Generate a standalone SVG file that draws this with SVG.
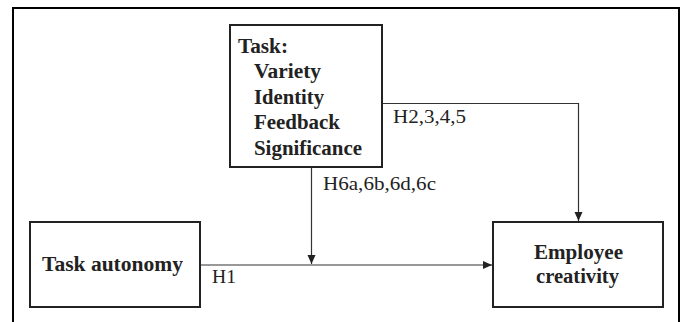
<svg xmlns="http://www.w3.org/2000/svg" width="682" height="322" viewBox="0 0 682 322">
<style>
.frame{fill:none;stroke:#000;stroke-width:2}
.box{fill:#fff;stroke:#222;stroke-width:2}
.conn{fill:none;stroke:#333;stroke-width:1.2}
.b{font-family:"Liberation Serif","Times New Roman",serif;font-weight:bold;font-size:20px;fill:#222}
.r{font-family:"Liberation Serif","Times New Roman",serif;font-size:18px;fill:#222}
</style>
<defs>
<marker id="arr" markerWidth="10" markerHeight="10" refX="9" refY="5" orient="auto" markerUnits="userSpaceOnUse">
<path d="M0,1 L9,5 L0,9 Z" fill="#222"/>
</marker>
</defs>
<path class="frame" d="M13,322 V8 H679 V322"/>
<g id="connectors">
<path class="conn" d="M382,103.5 H578.5 V221" marker-end="url(#arr)"/>
<path class="conn" d="M311.5,167 V264" marker-end="url(#arr)"/>
<path class="conn" d="M200,265 H492" marker-end="url(#arr)"/>
<text class="r" x="393" y="123" textLength="73" lengthAdjust="spacingAndGlyphs">H2,3,4,5</text>
<text class="r" x="323" y="190" textLength="113" lengthAdjust="spacingAndGlyphs">H6a,6b,6d,6c</text>
<text class="r" x="212" y="283" textLength="24" lengthAdjust="spacingAndGlyphs">H1</text>
</g>
<g id="task">
<rect class="box" x="230" y="25" width="152" height="142"/>
<text class="b" x="238" y="53" textLength="50" lengthAdjust="spacingAndGlyphs">Task:</text>
<text class="b" x="254" y="78" textLength="67" lengthAdjust="spacingAndGlyphs">Variety</text>
<text class="b" x="254" y="104" textLength="70" lengthAdjust="spacingAndGlyphs">Identity</text>
<text class="b" x="254" y="129" textLength="86" lengthAdjust="spacingAndGlyphs">Feedback</text>
<text class="b" x="254" y="155" textLength="108" lengthAdjust="spacingAndGlyphs">Significance</text>
</g>
<g id="autonomy">
<rect class="box" x="30" y="222" width="170" height="85"/>
<text class="b" x="42" y="271" textLength="141" lengthAdjust="spacingAndGlyphs">Task autonomy</text>
</g>
<g id="creativity">
<rect class="box" x="493" y="222" width="170" height="85"/>
<text class="b" x="534" y="259" textLength="89" lengthAdjust="spacingAndGlyphs">Employee</text>
<text class="b" x="536" y="283" textLength="83" lengthAdjust="spacingAndGlyphs">creativity</text>
</g>
</svg>
